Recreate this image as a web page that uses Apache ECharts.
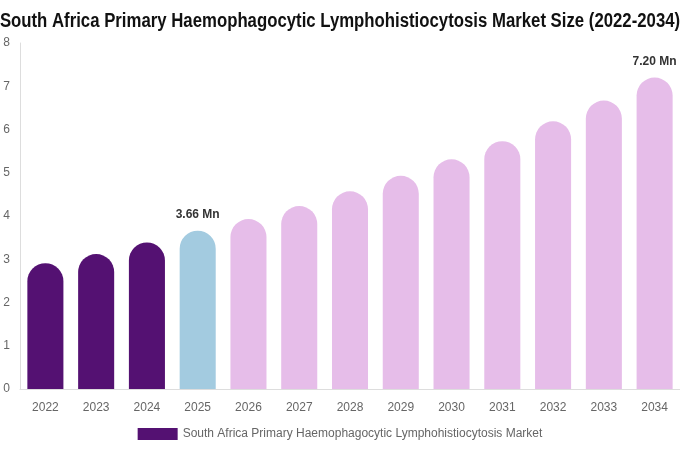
<!DOCTYPE html>
<html><head><meta charset="utf-8">
<script src="https://cdn.jsdelivr.net/npm/echarts@6/dist/echarts.min.js"></script>
<style>html,body{margin:0;padding:0;background:#fff}#c{width:680px;height:450px}</style>
</head><body><div id="c"></div>
<script>
const categories = ['2022','2023','2024','2025','2026','2027','2028','2029','2030','2031','2032','2033','2034'];
const values = [2.91, 3.12, 3.39, 3.66, 3.93, 4.23, 4.57, 4.93, 5.31, 5.73, 6.19, 6.67, 7.20];
const labeledIdx = [3, 12];
const colorHistoric = '#541172';
const colorCurrent = '#a3cbe0';
const colorForecast = '#e6bde9';
const seriesName = 'South Africa Primary Haemophagocytic Lymphohistiocytosis Market';
const titleText = 'South Africa Primary Haemophagocytic Lymphohistiocytosis Market Size (2022-2034)';

const chart = echarts.init(document.getElementById('c'));
chart.setOption({
  animation: false,
  graphic: [{
    type: 'text', x: 340, y: 21, scaleX: 0.838,
    style: {
      text: titleText, textAlign: 'center', textVerticalAlign: 'middle',
      font: 'bold 20px "Liberation Sans", Arial, sans-serif', fill: '#111'
    }
  }],
  legend: {
    bottom: 5, left: 'center', itemWidth: 40, itemHeight: 12, icon: 'rect',
    textStyle: { fontFamily: 'Liberation Sans', fontSize: 12, color: '#666' },
    data: [{ name: seriesName, itemStyle: { color: colorHistoric } }]
  },
  grid: { left: 20, right: 0, top: 43, bottom: 61, containLabel: false },
  xAxis: {
    type: 'category', data: categories,
    axisLine: { lineStyle: { color: '#ddd' } },
    axisTick: { show: false },
    axisLabel: { color: '#666', fontSize: 12, fontFamily: 'Liberation Sans', margin: 13 }
  },
  yAxis: {
    type: 'value', min: 0, max: 8, interval: 1,
    axisLine: { show: true, lineStyle: { color: '#ddd' } },
    splitLine: { show: false },
    axisLabel: { color: '#666', fontSize: 12, fontFamily: 'Liberation Sans', margin: 10 }
  },
  series: [{
    name: seriesName, type: 'bar', barWidth: '71%',
    data: values.map((v, i) => ({
      value: v,
      itemStyle: { color: i < 3 ? colorHistoric : (i === 3 ? colorCurrent : colorForecast) },
      label: labeledIdx.includes(i) ? {
        show: true, position: 'top', distance: 10,
        formatter: p => p.value.toFixed(2) + ' Mn',
        fontWeight: 'bold', fontSize: 12, color: '#333', fontFamily: 'Liberation Sans'
      } : { show: false }
    })),
    itemStyle: { borderRadius: [18, 18, 0, 0] }
  }]
});
</script></body></html>
